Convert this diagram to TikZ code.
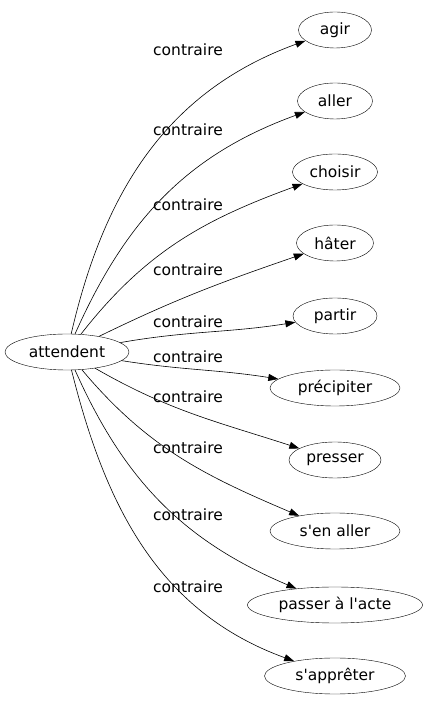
\documentclass[tikz,border=0pt]{standalone}
\usepackage{fontspec}
\setmainfont{DejaVu Sans}
\usepackage{tikz}
\usetikzlibrary{shapes.geometric, arrows.meta, positioning}

\begin{document}
\begin{tikzpicture}[x=1bp, y=1bp,
  mot/.style={draw, ellipse, inner sep=0pt, minimum height=36bp, minimum width=#1, font=\fontsize{15.5bp}{17bp}\selectfont},
  lien/.style={-{Triangle[length=10bp, width=7bp]}, line width=0.6bp},
  rel/.style={font=\fontsize{15.5bp}{17bp}\selectfont, inner sep=0pt}]
\useasboundingbox (0,0) rectangle (428,707);

% --- MOT CENTRAL ---
\node[mot=124bp] (att) at (67,355) {attendent};

% --- MOTS CONTRAIRES ---
\node[mot=73bp]  (agir)  at (335,677) {agir};
\node[mot=75bp]  (aller) at (335,606) {aller};
\node[mot=85bp]  (choisir) at (335,535) {choisir};
\node[mot=77bp]  (hater) at (335,464) {hâter};
\node[mot=84bp]  (partir) at (335,391) {partir};
\node[mot=130bp] (precipiter) at (335,319) {précipiter};
\node[mot=92bp]  (presser) at (335,247) {presser};
\node[mot=130bp] (senaller) at (335,176) {s\textquotesingle en aller};
\node[mot=175bp] (passer) at (335,102) {passer à l\textquotesingle acte};
\node[mot=141bp] (sappreter) at (335,31) {s\textquotesingle apprêter};

% --- ETIQUETTES ---
\node[rel] (r1) at (188,657) {contraire};
\node[rel] (r2) at (188,577) {contraire};
\node[rel] (r3) at (188,502) {contraire};
\node[rel] (r4) at (188,437) {contraire};
\node[rel] (r5) at (188,385) {contraire};
\node[rel] (r6) at (188,350) {contraire};
\node[rel] (r7) at (188,310) {contraire};
\node[rel] (r8) at (188,259) {contraire};
\node[rel] (r9) at (188,192) {contraire};
\node[rel] (r10) at (188,120) {contraire};

% --- ARCS ---
\draw[lien] (att) to[out=77, in=200] (agir);
\draw[lien] (att) to[out=66, in=200] (aller);
\draw[lien] (att) to[out=52, in=200] (choisir);
\draw[lien] (att) to[out=26, in=199] (hater);
\draw[lien] (att) to[out=10, in=189] (partir);
\draw[lien] (att) to[out=-9, in=171] (precipiter);
\draw[lien] (att) to[out=-30, in=162] (presser);
\draw[lien] (att) to[out=-50, in=157] (senaller);
\draw[lien] (att) to[out=-66, in=157] (passer);
\draw[lien] (att) to[out=-76, in=160] (sappreter);
\end{tikzpicture}
\end{document}
